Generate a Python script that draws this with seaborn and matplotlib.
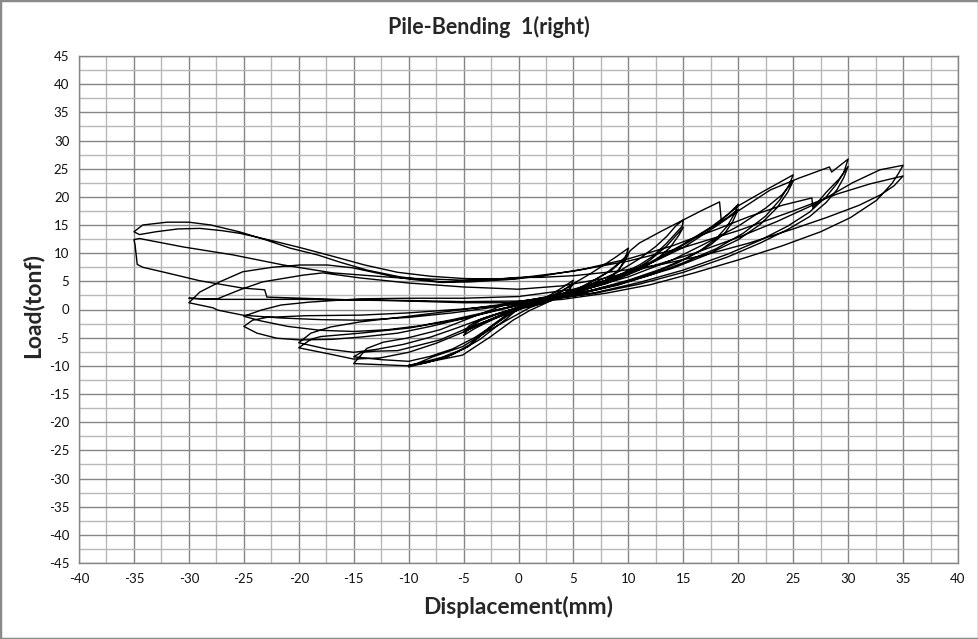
import matplotlib
matplotlib.use("Agg")
import matplotlib.pyplot as plt
import pandas as pd
import seaborn as sns
from matplotlib.ticker import MultipleLocator
from matplotlib.patches import Rectangle

# ---- data (displacement in mm, load in tonf) ----
disp_a5 = [0, 1, 2, 3, 4, 5, 4.6, 4, 3, 2, 1, 0, -1, -2, -3, -4, -5,
           -4.5, -3.5, -2, -1, 0, 1, 2, 3, 4, 5,
           4.5, 3.5, 2, 1, 0, -1, -2, -3, -4, -5]
load_a5 = [0, 0.8, 1.7, 2.7, 3.9, 5.2, 3.6, 2.5, 1.6, 1.0, 0.5, 0, -0.6, -1.3, -2.1, -3.0, -4.0,
           -2.9, -1.8, -0.8, -0.2, 0.4, 1.0, 1.6, 2.4, 3.4, 4.6,
           3.2, 2.1, 1.2, 0.6, 0.1, -0.7, -1.5, -2.4, -3.4, -4.6]

disp_a10 = [-4.5, -3.5, -2, 0, 2, 3.5, 5, 6.5, 8, 9, 10,
            9.7, 9.2, 8.5, 7.5, 6, 4, 2, 0, -1, -2.6, -4.4, -6, -8.1, -10,
            -7.8, -5.1, -2.6, -0.5, 1, 2.5, 4, 6, 8, 9, 10,
            9.6, 9, 8, 6.5, 4.5, 2.5, 0.5, -1, -2.8, -4.6, -6.5, -8.5, -10]
load_a10 = [-3.3, -2.0, -0.9, 0.4, 1.5, 2.6, 4.6, 6.3, 8.2, 9.5, 10.9,
            9.0, 7.2, 5.8, 4.6, 3.4, 2.3, 1.3, 0.4, -0.8, -3.1, -6.2, -8.0, -9.3, -10.2,
            -8.4, -6.6, -3.6, -1.3, 0.3, 1.4, 2.5, 4.2, 6.5, 8.0, 9.8,
            8.3, 6.8, 5.2, 3.9, 2.6, 1.5, 0.4, -1.0, -3.6, -6.6, -8.4, -9.5, -9.9]

disp_a15 = [-7.4, -5.1, -2.6, -0.5, 1, 3, 5, 7, 8.5, 9.5, 10.2, 11, 13, 15,
            14.9, 13.5, 12.2, 11, 9, 7, 5, 3, 1, 0, -1, -2, -3.5, -5, -7, -10, -12.5, -15,
            -13.8, -12.3, -10.2, -7.15, -4.4, -0.8, 2, 5, 8, 10, 12, 13.5, 15,
            14.6, 13.8, 12.5, 11, 9, 7, 5, 3, 1, -0.6, -2, -4, -6, -8, -10, -12.5, -15]
load_a15 = [-9.0, -8.1, -4.9, -1.9, -0.2, 1.6, 3.3, 5.3, 7.0, 8.8, 10.5, 11.8, 13.9, 15.9,
            14.8, 11.8, 9.4, 7.9, 6.0, 4.5, 3.3, 2.2, 1.0, 0.2, -1.5, -3.0, -5.3, -7.0, -8.5, -10.0, -9.8, -9.6,
            -6.9, -5.8, -5.1, -3.6, -1.5, 1.2, 2.0, 3.0, 4.6, 6.3, 8.8, 11.3, 14.6,
            13.2, 11.0, 8.8, 7.0, 5.4, 4.1, 3.0, 2.0, 1.0, -0.6, -2.4, -5.0, -7.0, -8.3, -9.2, -8.9, -8.4]

disp_a20 = [-14.3, -13, -11, -7.15, -4.4, -0.8, 3, 6, 9, 11, 12.5, 13.5, 14.3, 15, 16.6, 18.3, 18.45, 19.2, 20,
            19.6, 19, 18, 16.5, 14.5, 12, 9, 6, 3, 0.5, -1, -3, -5, -7.5, -10, -12.6, -15, -17.2, -20,
            -18.9, -18, -14.4, -10, -5, -2, 0, 4, 8, 11, 13.5, 15.5, 17.5, 19, 20,
            19.5, 18.8, 17.5, 15.5, 13, 10, 7, 4, 1, -1, -3, -5.5, -8, -10.5, -13, -15, -17.5, -20]
load_a20 = [-7.6, -7.4, -7.3, -5.4, -3.1, -0.6, 2.3, 4.0, 6.6, 9.0, 11.2, 13.0, 14.8, 15.9, 17.5, 19.1, 15.9, 17.1, 18.7,
            16.8, 14.8, 12.6, 10.4, 8.3, 6.3, 4.4, 3.0, 1.8, 0.6, -0.4, -2.2, -4.0, -6.0, -7.6, -8.6, -8.8, -7.9, -6.8,
            -5.3, -4.8, -4.2, -3.3, -1.6, -0.2, 0.7, 2.5, 4.8, 7.2, 9.8, 12.0, 14.5, 16.3, 17.8,
            15.6, 13.6, 11.5, 9.3, 7.2, 5.2, 3.6, 2.2, 0.9, -0.2, -1.4, -3.2, -4.9, -6.2, -7.1, -7.6, -7.0, -5.9]

disp_a25 = [-18.9, -17.1, -14.4, -10, -5, 0, 4, 8, 12, 15, 17.5, 19, 20, 22.5, 25,
            24.6, 23.8, 22.5, 20.5, 18, 15, 12, 9, 6, 3, 0, -3, -5, -8, -11, -14.4, -17, -19.9, -22, -23.8, -25,
            -24.2, -22.9, -19.3, -14.4, -10, -5, 0, 5, 10, 14, 17, 20, 22.5, 24, 25,
            24.5, 23.5, 22, 20, 17, 14, 10, 6, 3, 0, -3, -6, -9, -12, -15, -18, -21, -23.5, -25]
load_a25 = [-4.2, -3.1, -2.2, -1.2, 0.0, 1.3, 2.8, 5.0, 8.4, 11.6, 14.6, 16.8, 18.4, 21.2, 23.9,
            22.0, 19.5, 16.6, 13.6, 10.8, 8.3, 6.1, 4.3, 3.0, 1.9, 0.9, -0.6, -1.6, -3.0, -4.2, -4.9, -5.3, -5.4, -5.1, -4.2, -3.0,
            -1.9, -1.4, -1.1, -1.0, -0.6, 0.1, 1.0, 3.0, 5.8, 8.8, 11.7, 14.8, 18.0, 20.4, 22.8,
            20.8, 18.0, 15.1, 12.4, 9.6, 7.3, 5.0, 3.1, 1.9, 0.8, -0.5, -1.8, -2.9, -3.6, -3.9, -3.7, -3.0, -2.0, -1.2]

disp_a30 = [-23.4, -21.6, -19.1, -14.4, -10, -5, 0, 5, 10, 15, 18, 20, 22.9, 25.5, 28.3, 28.5, 30,
            29.6, 29, 28, 26.5, 24.5, 22, 19, 15, 11, 7, 3, 0, -3, -6, -10, -14.4, -18, -21.7, -25.1, -27.4, -27.8, -30,
            -29, -27.2, -25.1, -22.4, -19.9, -17.4, -15.1, -12, -10, -7, -4.4, -1, 2, 6, 10, 14, 18, 21, 24, 26.7, 26.8, 28, 29.2, 30,
            29.6, 29, 28, 26.5, 24.5, 22, 19, 15, 11, 7, 3, 0, -5, -10, -15, -20, -25, -27.4, -30]
load_a30 = [-0.1, 0.8, 1.3, 1.9, 2.0, 2.0, 2.3, 3.6, 6.3, 11.0, 14.8, 17.5, 21.2, 23.3, 25.3, 24.4, 26.7,
            24.3, 22.4, 20.0, 17.3, 14.8, 12.3, 9.8, 7.0, 4.8, 3.0, 1.8, 1.1, 0.2, -0.6, -1.4, -1.9, -1.8, -1.5, -1.0, -0.1, 0.3, 1.2,
            3.1, 4.9, 6.7, 7.5, 7.9, 7.9, 7.4, 6.1, 5.4, 4.8, 4.9, 5.3, 5.9, 7.2, 9.0, 11.3, 14.2, 16.5, 18.5, 19.8, 18.0, 20.8, 23.2, 25.4,
            23.4, 21.3, 19.0, 16.5, 14.2, 11.8, 9.3, 6.6, 4.5, 2.9, 1.9, 1.5, 1.4, 1.6, 1.7, 1.8, 1.8, 1.8, 2.0]

disp_a35 = [-29, -27.4, -25.35, -23.3, -19.6, -17.8, -14.4, -10, -5, 0, 4, 8, 12, 16, 20, 23.5, 27.2, 30.4, 32.9, 35,
            34.6, 34, 32.6, 30.2, 27.5, 24, 20, 16, 12, 8, 4, 0, -5, -10, -15, -19.9, -22.9, -23.1, -25.1, -29, -32, -34.2, -34.7, -34.9, -35,
            -34.5, -30.5, -26, -21.4, -16.9, -10.8, -5, 0, 5, 10, 15, 20, 25, 29, 32, 35,
            34.2, 33, 31, 28, 25, 21, 17, 13, 9, 5, 2, 0, -3, -7, -10.8, -13.8, -16.25, -18.3, -20.8, -22.9, -25.35, -28, -30, -32, -34.2, -35,
            -34.5, -33, -31, -29, -27, -25.3, -22.6, -19.9, -17, -14, -11, -8, -5, -2, 0]
load_a35 = [1.9, 1.9, 3.5, 4.9, 6.1, 6.5, 5.6, 4.7, 4.0, 3.6, 4.2, 5.6, 7.6, 10.0, 12.8, 15.6, 18.9, 22.5, 24.8, 25.6,
            24.2, 22.4, 19.4, 16.3, 13.8, 11.3, 8.8, 6.5, 4.4, 2.9, 1.8, 1.2, 1.2, 1.5, 1.7, 2.0, 2.2, 3.5, 3.8, 5.1, 6.5, 7.5, 8.0, 11.5, 12.4,
            12.6, 11.1, 9.7, 7.9, 6.5, 5.6, 5.2, 5.6, 6.8, 8.6, 11.0, 14.0, 17.5, 20.5, 22.3, 23.7,
            22.0, 20.4, 18.5, 16.3, 14.3, 11.8, 9.7, 8.0, 6.8, 6.0, 5.7, 5.7, 5.2, 4.9, 5.8, 7.0, 8.4, 9.7, 10.9, 12.3, 13.76, 15.0, 15.5, 15.5, 15.0, 13.8,
            13.3, 13.8, 14.3, 14.4, 14.0, 13.5, 12.3, 11.0, 9.5, 7.9, 6.6, 5.9, 5.5, 5.4, 5.5]

x_ticks = list(range(-40, 41, 5))
y_ticks = list(range(-45, 46, 5))

# ---- assemble the continuous test record ----
disp = disp_a5 + disp_a10 + disp_a15 + disp_a20 + disp_a25 + disp_a30 + disp_a35
load = load_a5 + load_a10 + load_a15 + load_a20 + load_a25 + load_a30 + load_a35
df = pd.DataFrame({"Displacement": disp, "Load": load})

sns.set_style("white")
plt.rcParams["font.family"] = ["Lato", "DejaVu Sans"]

W, H = 979, 639
fig = plt.figure(figsize=(W / 100, H / 100), dpi=100)
ax = fig.add_axes([79 / W, 1 - 563 / H, (958 - 79) / W, (563 - 56) / H])

ax.set_axisbelow(True)
ax.xaxis.set_major_locator(MultipleLocator(5))
ax.yaxis.set_major_locator(MultipleLocator(5))
ax.xaxis.set_minor_locator(MultipleLocator(2.5))
ax.yaxis.set_minor_locator(MultipleLocator(2.5))
ax.grid(which="major", color="#858585", linewidth=1.0)
ax.grid(which="minor", color="#b8b8b8", linewidth=1.0)

sns.lineplot(data=df, x="Displacement", y="Load", sort=False, estimator=None,
             color="black", linewidth=1.0, ax=ax)

ax.set_xlim(-40, 40)
ax.set_ylim(-45, 45)
ax.set_xticks(x_ticks)
ax.set_yticks(y_ticks)
ax.set_xticklabels([str(t) for t in x_ticks])
ax.set_yticklabels([str(t) for t in y_ticks])
ax.tick_params(which="major", direction="out", length=4, width=1, color="#858585",
               labelsize=9.5, labelcolor="#111111", pad=3)
ax.tick_params(which="minor", length=0)
for s in ax.spines.values():
    s.set_color("#858585")
    s.set_linewidth(1.0)

ax.set_xlabel("")
ax.set_ylabel("")
fig.text(518 / W, 1 - 607 / H, "Displacement(mm)", ha="center", va="center",
         fontsize=16.5, fontweight="bold")
fig.text(33 / W, 1 - 305 / H, "Load(tonf)", ha="center", va="center",
         rotation=90, fontsize=16.5, fontweight="bold")
fig.text(489 / W, 1 - 27 / H, "Pile-Bending  1(right)", ha="center", va="center",
         fontsize=15.5, fontweight="bold")

fig.add_artist(Rectangle((0, 0), 1, 1, transform=fig.transFigure, fill=False,
                         edgecolor="#8a8a8a", linewidth=2.5))

fig.savefig("out.png", dpi=100)
